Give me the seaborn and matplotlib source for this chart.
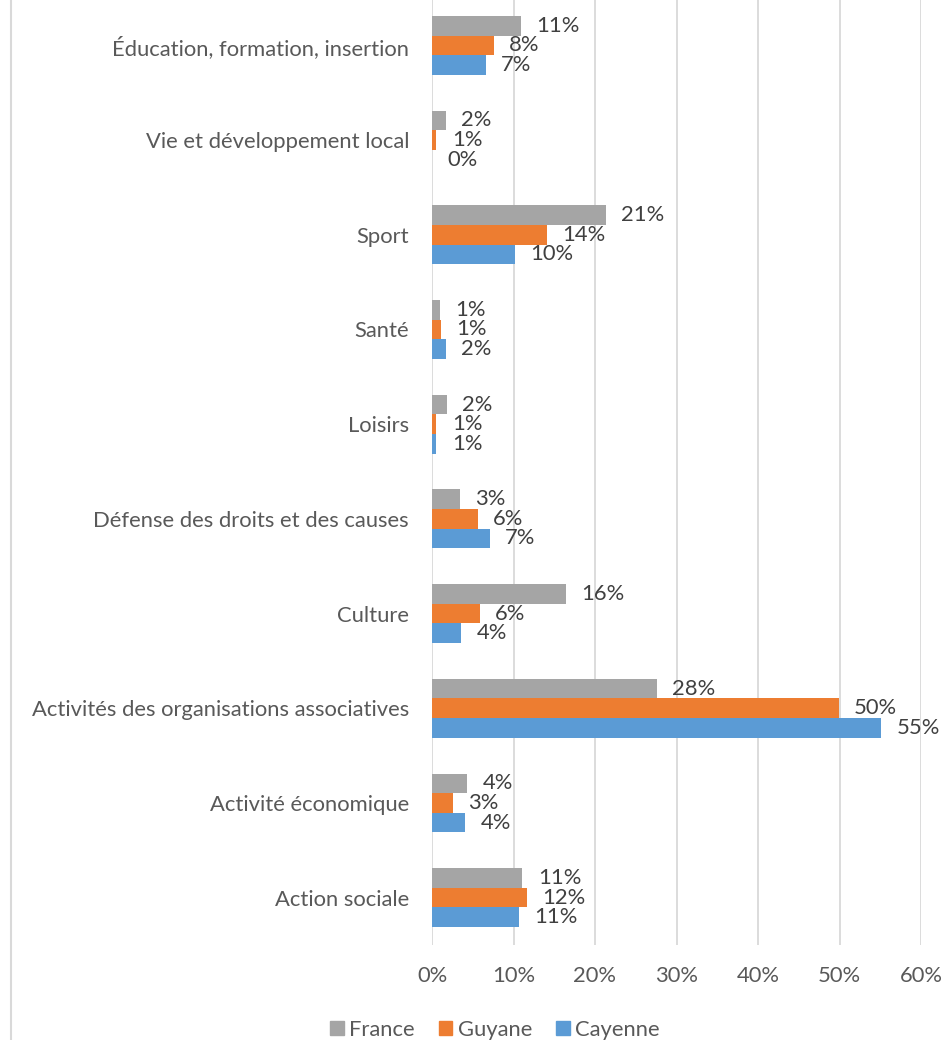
import matplotlib
matplotlib.use("Agg")
import matplotlib.pyplot as plt
from matplotlib.lines import Line2D
from matplotlib.patches import Patch
from matplotlib.ticker import PercentFormatter, MultipleLocator
import pandas as pd
import seaborn as sns

# data (shares, top category first)
categories = [
    "Éducation, formation, insertion",
    "Vie et développement local",
    "Sport",
    "Santé",
    "Loisirs",
    "Défense des droits et des causes",
    "Culture",
    "Activités des organisations associatives",
    "Activité économique",
    "Action sociale",
]
france = [0.109, 0.017, 0.213, 0.010, 0.018, 0.034, 0.164, 0.276, 0.043, 0.111]
guyane = [0.076, 0.0055, 0.141, 0.011, 0.0055, 0.056, 0.059, 0.499, 0.026, 0.117]
cayenne = [0.066, 0.0, 0.102, 0.017, 0.0055, 0.071, 0.036, 0.551, 0.041, 0.107]
series = ["France", "Guyane", "Cayenne"]
colors = ["#A5A5A5", "#ED7D31", "#5B9BD5"]

df = pd.DataFrame({
    "categorie": categories * 3,
    "zone": [s for s in series for _ in categories],
    "part": france + guyane + cayenne,
})

sns.set_theme(style="white")
plt.rcParams["font.family"] = ["Lato", "DejaVu Sans"]
fs = 15.8

fig = plt.figure(figsize=(9.43, 10.4), dpi=100)
ax = fig.add_axes([432 / 943, 1 - 945 / 1040, 489 / 943, 947 / 1040])

sns.barplot(data=df, y="categorie", x="part", hue="zone", order=categories,
            hue_order=series, palette=colors, orient="h", width=0.62, gap=0,
            errorbar=None, saturation=1, linewidth=0, legend=False, ax=ax)

ax.set_xlim(0, 0.6)
ax.set_ylim(9.5, -0.5)
ax.xaxis.set_major_locator(MultipleLocator(0.1))
ax.xaxis.set_major_formatter(PercentFormatter(1, decimals=0))
ax.grid(axis="x", color="#d9d9d9", lw=1.3)
ax.set_axisbelow(True)
sns.despine(ax=ax, left=True, bottom=True)
ax.tick_params(axis="y", length=0, pad=16.5, labelsize=fs, labelcolor="#595959")
ax.tick_params(axis="x", length=0, pad=15, labelsize=fs, labelcolor="#595959")
ax.set_xlabel("")
ax.set_ylabel("")

# data labels
for cont in ax.containers:
    ax.bar_label(cont, fmt=lambda v: f"{v:.0%}", padding=11, fontsize=fs,
                 color="#404040")

handles = [Patch(color=c, label=s) for s, c in zip(series, colors)]
fig.legend(handles=handles, loc="center", bbox_to_anchor=(495 / 943, 1 - 1030 / 1040),
           ncol=3, frameon=False, handlelength=0.62, handleheight=0.62,
           handletextpad=0.25, columnspacing=1.1, fontsize=fs, labelcolor="#595959")

# chart area border on the left
fig.add_artist(Line2D([11 / 943] * 2, [0, 1], color="#d9d9d9", lw=1.5))

fig.savefig("out.png", dpi=100)
